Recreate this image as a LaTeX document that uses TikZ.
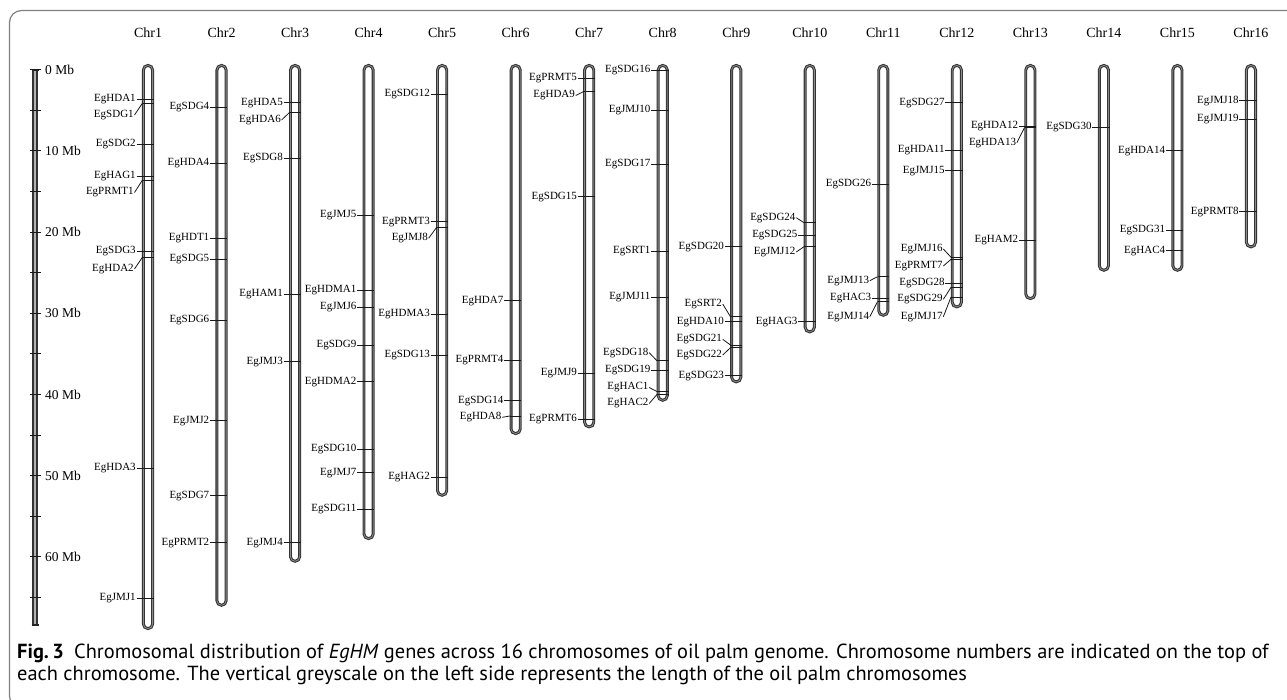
\documentclass[tikz,border=0pt]{standalone}
\usepackage{fontspec}
\setmainfont{Liberation Serif}
\newfontfamily\capfont{PT Sans}
\tikzset{
  chromo/.style={draw=black!80, line width=1.05pt, double=black!45, double distance=0.8pt, rounded corners=4.6pt},
  rulerbar/.style={draw=black!80, line width=1.5pt, fill=black!30},
  tickln/.style={draw=black!90, line width=1pt},
  conn/.style={draw=black!90, line width=0.8pt},
  gene/.style={anchor=east, inner sep=0.6pt, font=\fontsize{11}{12}\selectfont},
  chrlab/.style={font=\fontsize{14}{15}\selectfont, inner sep=0pt},
  mblab/.style={anchor=west, font=\fontsize{13.5}{14}\selectfont, inner sep=0pt},
  frame/.style={draw=black!50, line width=1.2pt, rounded corners=12pt},
  captext/.style={anchor=west, inner sep=0pt, font=\capfont\fontsize{20.4}{22}\selectfont}
}
\newcommand{\chrx}[1]{\pgfmathsetmacro{\gx}{148+73.53*(#1-1)}}
\newcommand{\chrom}[2]{%
  \chrx{#1}%
  \node[chrlab] (chr#1) at (\gx,33) {Chr#1};
  \draw[chromo] (\gx-4.6,65.4) rectangle (\gx+4.6,#2-1.4);
}
\newcommand{\gn}[5]{%
  \chrx{#1}%
  \ifdim #2pt=#3pt
    \node[gene] (#5) at (\gx-11.5,#3) {#4};
  \else
    \node[gene] (#5) at (\gx-13.5,#3) {#4};
  \fi
  \coordinate (#5t) at (\gx-5.8,#2);
  \draw[conn] (#5.east) -- (#5t);
  \draw[tickln] (\gx-5.8,#2) -- (\gx+5.8,#2);
}
\begin{document}
\begin{tikzpicture}[x=1pt,y=-1pt]
\useasboundingbox (0,0) rectangle (1287,699);
\begin{scope}
  \clip (0,0) rectangle (1287,699);
  \draw[frame] (9.5,10.5) rectangle (1310,708);
\end{scope}

% ruler
\draw[rulerbar] (33,69.7) rectangle (37,625);
\draw[line width=2pt, black!85] (31.5,69.7) -- (38.5,69.7);
\draw[line width=2pt, black!85] (31.5,625) -- (38.5,625);
\foreach \k in {0,...,13} {
  \draw[tickln] (30,{69.7+8.12*5*\k}) -- (41,{69.7+8.12*5*\k});
}
\foreach \m in {0,10,...,60} {
  \node[mblab] (mb\m) at (45,{69.7+8.12*\m}) {\m{} Mb};
}

% chromosomes
\chrom{1}{630}
\chrom{2}{606.7}
\chrom{3}{562.7}
\chrom{4}{540}
\chrom{5}{496.7}
\chrom{6}{435}
\chrom{7}{428.3}
\chrom{8}{401.7}
\chrom{9}{383.3}
\chrom{10}{333.3}
\chrom{11}{316.7}
\chrom{12}{308.3}
\chrom{13}{300}
\chrom{14}{271.7}
\chrom{15}{271.7}
\chrom{16}{248.3}

% genes: chr, tick y, label y, text, name
\gn{1}{99.5}{99.5}{EgHDA1}{hda1}
\gn{1}{103.5}{115}{EgSDG1}{sdg1}
\gn{1}{144}{144}{EgSDG2}{sdg2}
\gn{1}{176.5}{176.5}{EgHAG1}{hag1}
\gn{1}{180.5}{192.5}{EgPRMT1}{prmt1}
\gn{1}{251.5}{251.5}{EgSDG3}{sdg3}
\gn{1}{257.5}{269}{EgHDA2}{hda2}
\gn{1}{468}{468}{EgHDA3}{hda3}
\gn{1}{598}{598}{EgJMJ1}{jmj1}

\gn{2}{107.3}{107.3}{EgSDG4}{sdg4}
\gn{2}{163.3}{163.3}{EgHDA4}{hda4}
\gn{2}{238.3}{238.3}{EgHDT1}{hdt1}
\gn{2}{259.3}{259.3}{EgSDG5}{sdg5}
\gn{2}{320}{320}{EgSDG6}{sdg6}
\gn{2}{420.7}{420.7}{EgJMJ2}{jmj2}
\gn{2}{495.7}{495.7}{EgSDG7}{sdg7}
\gn{2}{542.7}{542.7}{EgPRMT2}{prmt2}

\gn{3}{102.7}{102.7}{EgHDA5}{hda5}
\gn{3}{112.7}{120}{EgHDA6}{hda6}
\gn{3}{158.3}{158.3}{EgSDG8}{sdg8}
\gn{3}{294.3}{294.3}{EgHAM1}{ham1}
\gn{3}{361.7}{361.7}{EgJMJ3}{jmj3}
\gn{3}{542.7}{542.7}{EgJMJ4}{jmj4}

\gn{4}{215}{215}{EgJMJ5}{jmj5}
\gn{4}{290}{290}{EgHDMA1}{hdma1}
\gn{4}{307.3}{307.3}{EgJMJ6}{jmj6}
\gn{4}{345}{345}{EgSDG9}{sdg9}
\gn{4}{381.7}{381.7}{EgHDMA2}{hdma2}
\gn{4}{449}{449}{EgSDG10}{sdg10}
\gn{4}{472.7}{472.7}{EgJMJ7}{jmj7}
\gn{4}{509.3}{509.3}{EgSDG11}{sdg11}

\gn{5}{94}{94}{EgSDG12}{sdg12}
\gn{5}{221.7}{221.7}{EgPRMT3}{prmt3}
\gn{5}{227.7}{238.3}{EgJMJ8}{jmj8}
\gn{5}{314.3}{314.3}{EgHDMA3}{hdma3}
\gn{5}{355}{355}{EgSDG13}{sdg13}
\gn{5}{477.3}{477.3}{EgHAG2}{hag2}

\gn{6}{300.7}{300.7}{EgHDA7}{hda7}
\gn{6}{360}{360}{EgPRMT4}{prmt4}
\gn{6}{400.7}{400.7}{EgSDG14}{sdg14}
\gn{6}{416}{417.3}{EgHDA8}{hda8}

\gn{7}{78.3}{78.3}{EgPRMT5}{prmt5}
\gn{7}{91.7}{95.5}{EgHDA9}{hda9}
\gn{7}{196.7}{196.7}{EgSDG15}{sdg15}
\gn{7}{373.3}{373.3}{EgJMJ9}{jmj9}
\gn{7}{419.3}{419.3}{EgPRMT6}{prmt6}

\gn{8}{70}{70}{EgSDG16}{sdg16}
\gn{8}{110}{110}{EgJMJ10}{jmj10}
\gn{8}{164}{164}{EgSDG17}{sdg17}
\gn{8}{251}{251}{EgSRT1}{srt1}
\gn{8}{297.3}{297.3}{EgJMJ11}{jmj11}
\gn{8}{360.7}{352.7}{EgSDG18}{sdg18}
\gn{8}{370}{370}{EgSDG19}{sdg19}
\gn{8}{391.5}{387.5}{EgHAC1}{hac1}
\gn{8}{394.5}{403.5}{EgHAC2}{hac2}

\gn{9}{246.7}{246.7}{EgSDG20}{sdg20}
\gn{9}{316.7}{304}{EgSRT2}{srt2}
\gn{9}{321.7}{321.7}{EgHDA10}{hda10}
\gn{9}{345}{339.3}{EgSDG21}{sdg21}
\gn{9}{347.7}{355}{EgSDG22}{sdg22}
\gn{9}{375.7}{375.7}{EgSDG23}{sdg23}

\gn{10}{222.7}{217.7}{EgSDG24}{sdg24}
\gn{10}{235}{235}{EgSDG25}{sdg25}
\gn{10}{246.7}{252}{EgJMJ12}{jmj12}
\gn{10}{321.7}{321.7}{EgHAG3}{hag3}

\gn{11}{184.3}{184.3}{EgSDG26}{sdg26}
\gn{11}{276.7}{280.7}{EgJMJ13}{jmj13}
\gn{11}{298.3}{298.3}{EgHAC3}{hac3}
\gn{11}{301.7}{316.7}{EgJMJ14}{jmj14}

\gn{12}{102.7}{102.7}{EgSDG27}{sdg27}
\gn{12}{150}{150}{EgHDA11}{hda11}
\gn{12}{170.7}{170.7}{EgJMJ15}{jmj15}
\gn{12}{257.3}{249}{EgJMJ16}{jmj16}
\gn{12}{259.3}{266}{EgPRMT7}{prmt7}
\gn{12}{283.3}{283.3}{EgSDG28}{sdg28}
\gn{12}{287.3}{299.3}{EgSDG29}{sdg29}
\gn{12}{297}{316.7}{EgJMJ17}{jmj17}

\gn{13}{126}{126}{EgHDA12}{hda12}
\gn{13}{127.5}{142.7}{EgHDA13}{hda13}
\gn{13}{240}{240}{EgHAM2}{ham2}

\gn{14}{127.3}{127.3}{EgSDG30}{sdg30}

\gn{15}{150.7}{150.7}{EgHDA14}{hda14}
\gn{15}{230}{230}{EgSDG31}{sdg31}
\gn{15}{250.7}{250.7}{EgHAC4}{hac4}

\gn{16}{100.7}{100.7}{EgJMJ18}{jmj18}
\gn{16}{119.3}{119.3}{EgJMJ19}{jmj19}
\gn{16}{211.7}{211.7}{EgPRMT8}{prmt8}

% caption
\node[captext] (cap1) at (17,653) {\textbf{Fig.\,3}\hspace{0.5em}Chromosomal distribution of \textit{EgHM} genes across 16 chromosomes of oil palm genome. Chromosome numbers are indicated on the top of};
\node[captext] (cap2) at (17,675) {each chromosome. The vertical greyscale on the left side represents the length of the oil palm chromosomes};
\end{tikzpicture}
\end{document}
